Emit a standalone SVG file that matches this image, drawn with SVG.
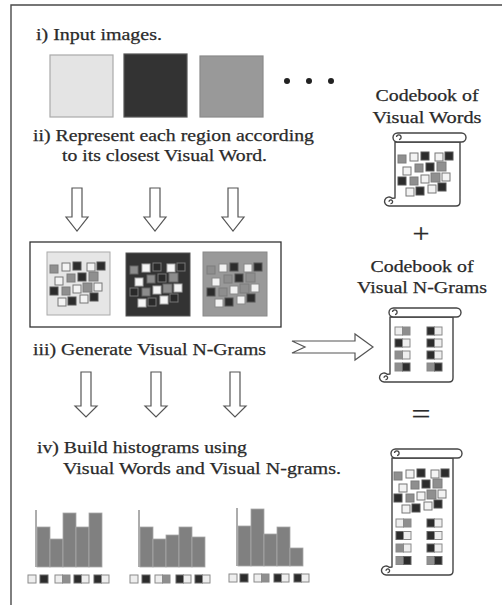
<svg xmlns="http://www.w3.org/2000/svg" xmlns:xlink="http://www.w3.org/1999/xlink" width="502" height="605" viewBox="0 0 502 605">
  <style>
    text { font-family: "Liberation Serif", "Times New Roman", serif; fill: #2a2a2a; stroke: #2a2a2a; stroke-width: 0.25; }
    .t { font-size: 17px; }
    .sym { font-size: 27px; }
    .frame { fill: none; stroke: #4a4a4a; stroke-width: 1.4; }
    .arrow { fill: #fff; stroke: #555; stroke-width: 1.2; stroke-linejoin: miter; }
    .scroll { fill: #fff; stroke: #444; stroke-width: 1.4; stroke-linejoin: round; }
    .curl { fill: none; stroke: #444; stroke-width: 1.3; }
    .qa { fill: var(--a, #8f8f8f); stroke: var(--as, #7d7d7d); stroke-width: 1; }
    .qb { fill: var(--b, #f3f3f3); stroke: var(--bs, #777); stroke-width: 1; }
    .qc { fill: var(--c, #2c2c2c); stroke: var(--cs, #555); stroke-width: 1; }
    .sl { fill: #eeeeee; stroke: #8a8a8a; stroke-width: 1; }
    .sg { fill: #8e8e8e; stroke: #8a8a8a; stroke-width: 1; }
    .sd { fill: #2c2c2c; stroke: #666; stroke-width: 1; }
    .bar { fill: #808080; stroke: #a8a8a8; stroke-width: 0.8; }
    .axis { stroke: #5a5a5a; stroke-width: 1; }
  </style>
  <defs>
    <!-- scattered visual-word squares, coordinates relative to an image's top-left corner -->
    <g id="words">
      <rect class="qa" x="3" y="13" width="8" height="8"/>
      <rect class="qb" x="15" y="11" width="8" height="8"/>
      <rect class="qc" x="26" y="10" width="8" height="8"/>
      <rect class="qb" x="40" y="11" width="8" height="8"/>
      <rect class="qc" x="50" y="10" width="8" height="8"/>
      <rect class="qb" x="8" y="25" width="8" height="8"/>
      <rect class="qa" x="20" y="22" width="8" height="8"/>
      <rect class="qc" x="31" y="21" width="8" height="8"/>
      <rect class="qa" x="42" y="20" width="9" height="9"/>
      <rect class="qc" x="3" y="35" width="8" height="8"/>
      <rect class="qa" x="15" y="35" width="8" height="8"/>
      <rect class="qb" x="26" y="33" width="8" height="8"/>
      <rect class="qa" x="36" y="31" width="9" height="9"/>
      <rect class="qb" x="47" y="31" width="8" height="8"/>
      <rect class="qb" x="11" y="46" width="8" height="8"/>
      <rect class="qc" x="21" y="45" width="8" height="8"/>
      <rect class="qb" x="33" y="43" width="8" height="8"/>
      <rect class="qc" x="43" y="41" width="8" height="8"/>
    </g>
  </defs>

  <!-- outer frame -->
  <path class="frame" d="M11,605 V5 H502"/>

  <!-- step i: input images -->
  <g id="step-input">
    <text class="t" x="36" y="40" textLength="126" lengthAdjust="spacingAndGlyphs">i) Input images.</text>
    <rect x="50" y="55" width="63" height="62" fill="#e4e4e4" stroke="#aaa" stroke-width="1.2"/>
    <rect x="124" y="54" width="63" height="63" fill="#333" stroke="#555" stroke-width="1.2"/>
    <rect x="200" y="56" width="63" height="61" fill="#999" stroke="#8a8a8a" stroke-width="1.2"/>
    <circle cx="287" cy="81" r="3" fill="#222"/>
    <circle cx="309" cy="81" r="3" fill="#222"/>
    <circle cx="331" cy="81" r="3" fill="#222"/>
  </g>

  <!-- step ii: regions mapped to visual words -->
  <g id="step-represent">
    <text class="t" x="33" y="141" textLength="281" lengthAdjust="spacingAndGlyphs">ii) Represent each region according</text>
    <text class="t" x="62" y="161" textLength="205" lengthAdjust="spacingAndGlyphs">to its closest Visual Word.</text>
  </g>

  <g id="region-images">
    <rect x="30" y="242" width="251" height="85" fill="none" stroke="#333" stroke-width="1.3"/>
    <rect x="47" y="252" width="63" height="63" fill="#e6e6e6" stroke="#aaa" stroke-width="1"/>
    <use href="#words" x="47" y="252"/>
    <rect x="126" y="253" width="64" height="63" fill="#333" stroke="#555" stroke-width="1"/>
    <use href="#words" x="127" y="253" style="--a:#8c8c8c;--as:#666;--b:#f5f5f5;--bs:#aaa;--c:#2a2a2a;--cs:#777"/>
    <rect x="203" y="252" width="64" height="64" fill="#999" stroke="#8a8a8a" stroke-width="1"/>
    <use href="#words" x="204" y="253" style="--a:#8e8e8e;--as:#7d7d7d;--b:#f2f2f2;--bs:#888;--c:#2c2c2c;--cs:#555"/>
  </g>

  <!-- step iii -->
  <g id="step-ngrams">
    <text class="t" x="33" y="355" textLength="233" lengthAdjust="spacingAndGlyphs">iii) Generate Visual N-Grams</text>
  </g>

  <!-- step iv: histograms -->
  <g id="step-histograms">
    <text class="t" x="37" y="453" textLength="210" lengthAdjust="spacingAndGlyphs">iv) Build histograms using</text>
    <text class="t" x="63" y="474" textLength="278" lengthAdjust="spacingAndGlyphs">Visual Words and Visual N-grams.</text>
  </g>

  <g id="histogram-1">
    <line class="axis" x1="36" y1="510" x2="36" y2="567"/>
    <rect class="bar" x="37" y="527" width="13" height="40"/>
    <rect class="bar" x="50" y="539" width="13" height="28"/>
    <rect class="bar" x="63" y="513" width="13" height="54"/>
    <rect class="bar" x="76" y="527" width="13" height="40"/>
    <rect class="bar" x="89" y="513" width="13" height="54"/>
    <rect class="sl" x="28" y="575" width="8" height="8"/>
    <rect class="sd" x="40" y="575" width="8" height="8"/>
    <rect class="sl" x="55" y="575" width="7.5" height="8"/><rect class="sg" x="62.5" y="575" width="7.5" height="8"/>
    <rect class="sd" x="74" y="575" width="7.5" height="8"/><rect class="sl" x="81.5" y="575" width="7.5" height="8"/>
    <rect class="sd" x="94" y="575" width="7.5" height="8"/><rect class="sl" x="101.5" y="575" width="7.5" height="8"/>
  </g>

  <g id="histogram-2">
    <line class="axis" x1="139" y1="510" x2="139" y2="567"/>
    <rect class="bar" x="140" y="527" width="13" height="40"/>
    <rect class="bar" x="153" y="539" width="13" height="28"/>
    <rect class="bar" x="166" y="535" width="13" height="32"/>
    <rect class="bar" x="179" y="527" width="13" height="40"/>
    <rect class="bar" x="192" y="537" width="13" height="30"/>
    <rect class="sl" x="130" y="575" width="8" height="8"/>
    <rect class="sd" x="142" y="575" width="8" height="8"/>
    <rect class="sl" x="155" y="575" width="7.5" height="8"/><rect class="sg" x="162.5" y="575" width="7.5" height="8"/>
    <rect class="sd" x="176" y="575" width="7.5" height="8"/><rect class="sl" x="183.5" y="575" width="7.5" height="8"/>
    <rect class="sd" x="195" y="575" width="7.5" height="8"/><rect class="sl" x="202.5" y="575" width="7.5" height="8"/>
  </g>

  <g id="histogram-3">
    <line class="axis" x1="237" y1="508" x2="237" y2="566"/>
    <rect class="bar" x="238" y="526" width="13" height="40"/>
    <rect class="bar" x="251" y="509" width="13" height="57"/>
    <rect class="bar" x="264" y="534" width="13" height="32"/>
    <rect class="bar" x="277" y="527" width="13" height="39"/>
    <rect class="bar" x="290" y="548" width="13" height="18"/>
    <rect class="sl" x="229" y="574" width="8" height="8"/>
    <rect class="sd" x="240" y="574" width="8" height="8"/>
    <rect class="sl" x="254" y="574" width="7.5" height="8"/><rect class="sg" x="261.5" y="574" width="7.5" height="8"/>
    <rect class="sd" x="274" y="574" width="7.5" height="8"/><rect class="sl" x="281.5" y="574" width="7.5" height="8"/>
    <rect class="sd" x="294" y="574" width="7.5" height="8"/><rect class="sl" x="301.5" y="574" width="7.5" height="8"/>
  </g>

  <!-- codebook of visual words -->
  <g id="codebook-words">
    <text class="t" x="427" y="101" text-anchor="middle" textLength="103" lengthAdjust="spacingAndGlyphs">Codebook of</text>
    <text class="t" x="427" y="123" text-anchor="middle" textLength="109" lengthAdjust="spacingAndGlyphs">Visual Words</text>
    <path class="scroll" d="M395,142 V198 L392.2,198.3 A4.5 4.5 0 1 0 389,206 H456 Q460,206 460,202 V142 Z"/>
    <path class="curl" d="M390.5,203.5 a1.8 1.8 0 1 0 -1.5,-1.8"/>
    <rect class="scroll" x="393" y="133" width="73" height="9" rx="4.5"/>
    <path class="curl" d="M399,139.5 a2.3 2.3 0 1 0 -2.5,-2.5"/>
    <use href="#words" x="395" y="142"/>
  </g>

  <g id="plus">
    <text class="sym" x="421" y="243" text-anchor="middle" textLength="17" lengthAdjust="spacingAndGlyphs">+</text>
  </g>

  <!-- codebook of visual n-grams -->
  <g id="codebook-ngrams">
    <text class="t" x="422" y="272" text-anchor="middle" textLength="103" lengthAdjust="spacingAndGlyphs">Codebook of</text>
    <text class="t" x="422" y="293" text-anchor="middle" textLength="130" lengthAdjust="spacingAndGlyphs">Visual N-Grams</text>
    <path class="scroll" d="M390,317 V374 L387.2,374.3 A4.5 4.5 0 1 0 384,382 H449 Q453,382 453,378 V317 Z"/>
    <path class="curl" d="M385.5,379.5 a1.8 1.8 0 1 0 -1.5,-1.8"/>
    <rect class="scroll" x="389" y="308" width="72" height="9" rx="4.5"/>
    <path class="curl" d="M395,314.5 a2.3 2.3 0 1 0 -2.5,-2.5"/>
    <rect class="sl" x="395" y="327" width="7.5" height="8"/><rect class="sg" x="402.5" y="327" width="7.5" height="8"/>
    <rect class="sd" x="427" y="327" width="7.5" height="8"/><rect class="sl" x="434.5" y="327" width="7.5" height="8"/>
    <rect class="sd" x="395" y="339" width="7.5" height="8"/><rect class="sl" x="402.5" y="339" width="7.5" height="8"/>
    <rect class="sd" x="427" y="339" width="7.5" height="8"/><rect class="sl" x="434.5" y="339" width="7.5" height="8"/>
    <rect class="sg" x="395" y="351" width="7.5" height="8"/><rect class="sl" x="402.5" y="351" width="7.5" height="8"/>
    <rect class="sd" x="427" y="351" width="7.5" height="8"/><rect class="sl" x="434.5" y="351" width="7.5" height="8"/>
    <rect class="sg" x="395" y="363" width="7.5" height="8"/><rect class="sd" x="402.5" y="363" width="7.5" height="8"/>
    <rect class="sg" x="427" y="363" width="7.5" height="8"/><rect class="sd" x="434.5" y="363" width="7.5" height="8"/>
  </g>

  <g id="equals">
    <text class="sym" x="421" y="423" text-anchor="middle" textLength="19" lengthAdjust="spacingAndGlyphs">=</text>
  </g>

  <!-- combined codebook -->
  <g id="codebook-combined">
    <path class="scroll" d="M392,458 V567 L389.2,567.3 A4.5 4.5 0 1 0 386,575 H449 Q453,575 453,571 V458 Z"/>
    <path class="curl" d="M387.5,572.5 a1.8 1.8 0 1 0 -1.5,-1.8"/>
    <rect class="scroll" x="391" y="449" width="71" height="9" rx="4.5"/>
    <path class="curl" d="M397,455.5 a2.3 2.3 0 1 0 -2.5,-2.5"/>
    <use href="#words" x="391" y="459"/>
    <rect class="sl" x="396" y="519" width="7.5" height="8"/><rect class="sg" x="403.5" y="519" width="7.5" height="8"/>
    <rect class="sd" x="427" y="519" width="7.5" height="8"/><rect class="sl" x="434.5" y="519" width="7.5" height="8"/>
    <rect class="sd" x="396" y="531.5" width="7.5" height="8"/><rect class="sl" x="403.5" y="531.5" width="7.5" height="8"/>
    <rect class="sd" x="427" y="531.5" width="7.5" height="8"/><rect class="sl" x="434.5" y="531.5" width="7.5" height="8"/>
    <rect class="sg" x="396" y="544" width="7.5" height="8"/><rect class="sl" x="403.5" y="544" width="7.5" height="8"/>
    <rect class="sd" x="427" y="544" width="7.5" height="8"/><rect class="sl" x="434.5" y="544" width="7.5" height="8"/>
    <rect class="sg" x="396" y="556.5" width="7.5" height="8"/><rect class="sd" x="403.5" y="556.5" width="7.5" height="8"/>
    <rect class="sg" x="427" y="556.5" width="7.5" height="8"/><rect class="sd" x="434.5" y="556.5" width="7.5" height="8"/>
  </g>

  <!-- hollow block arrows -->
  <g id="connectors">
    <polygon class="arrow" points="72,188 82,188 82,217 88,217 77,231 66,217 72,217"/>
    <polygon class="arrow" points="150,188 160,188 160,217 166,217 155,231 144,217 150,217"/>
    <polygon class="arrow" points="228,188 238,188 238,217 244,217 233,231 222,217 228,217"/>
    <polygon class="arrow" points="81,372 91,372 91,406 97,406 86,417 75,406 81,406"/>
    <polygon class="arrow" points="151,372 161,372 161,406 167,406 156,417 145,406 151,406"/>
    <polygon class="arrow" points="230,372 240,372 240,406 246,406 235,417 224,406 230,406"/>
    <polygon class="arrow" points="292,341 355,341 355,334 373,347 355,360 355,353 292,353 305,347"/>
  </g>
</svg>
